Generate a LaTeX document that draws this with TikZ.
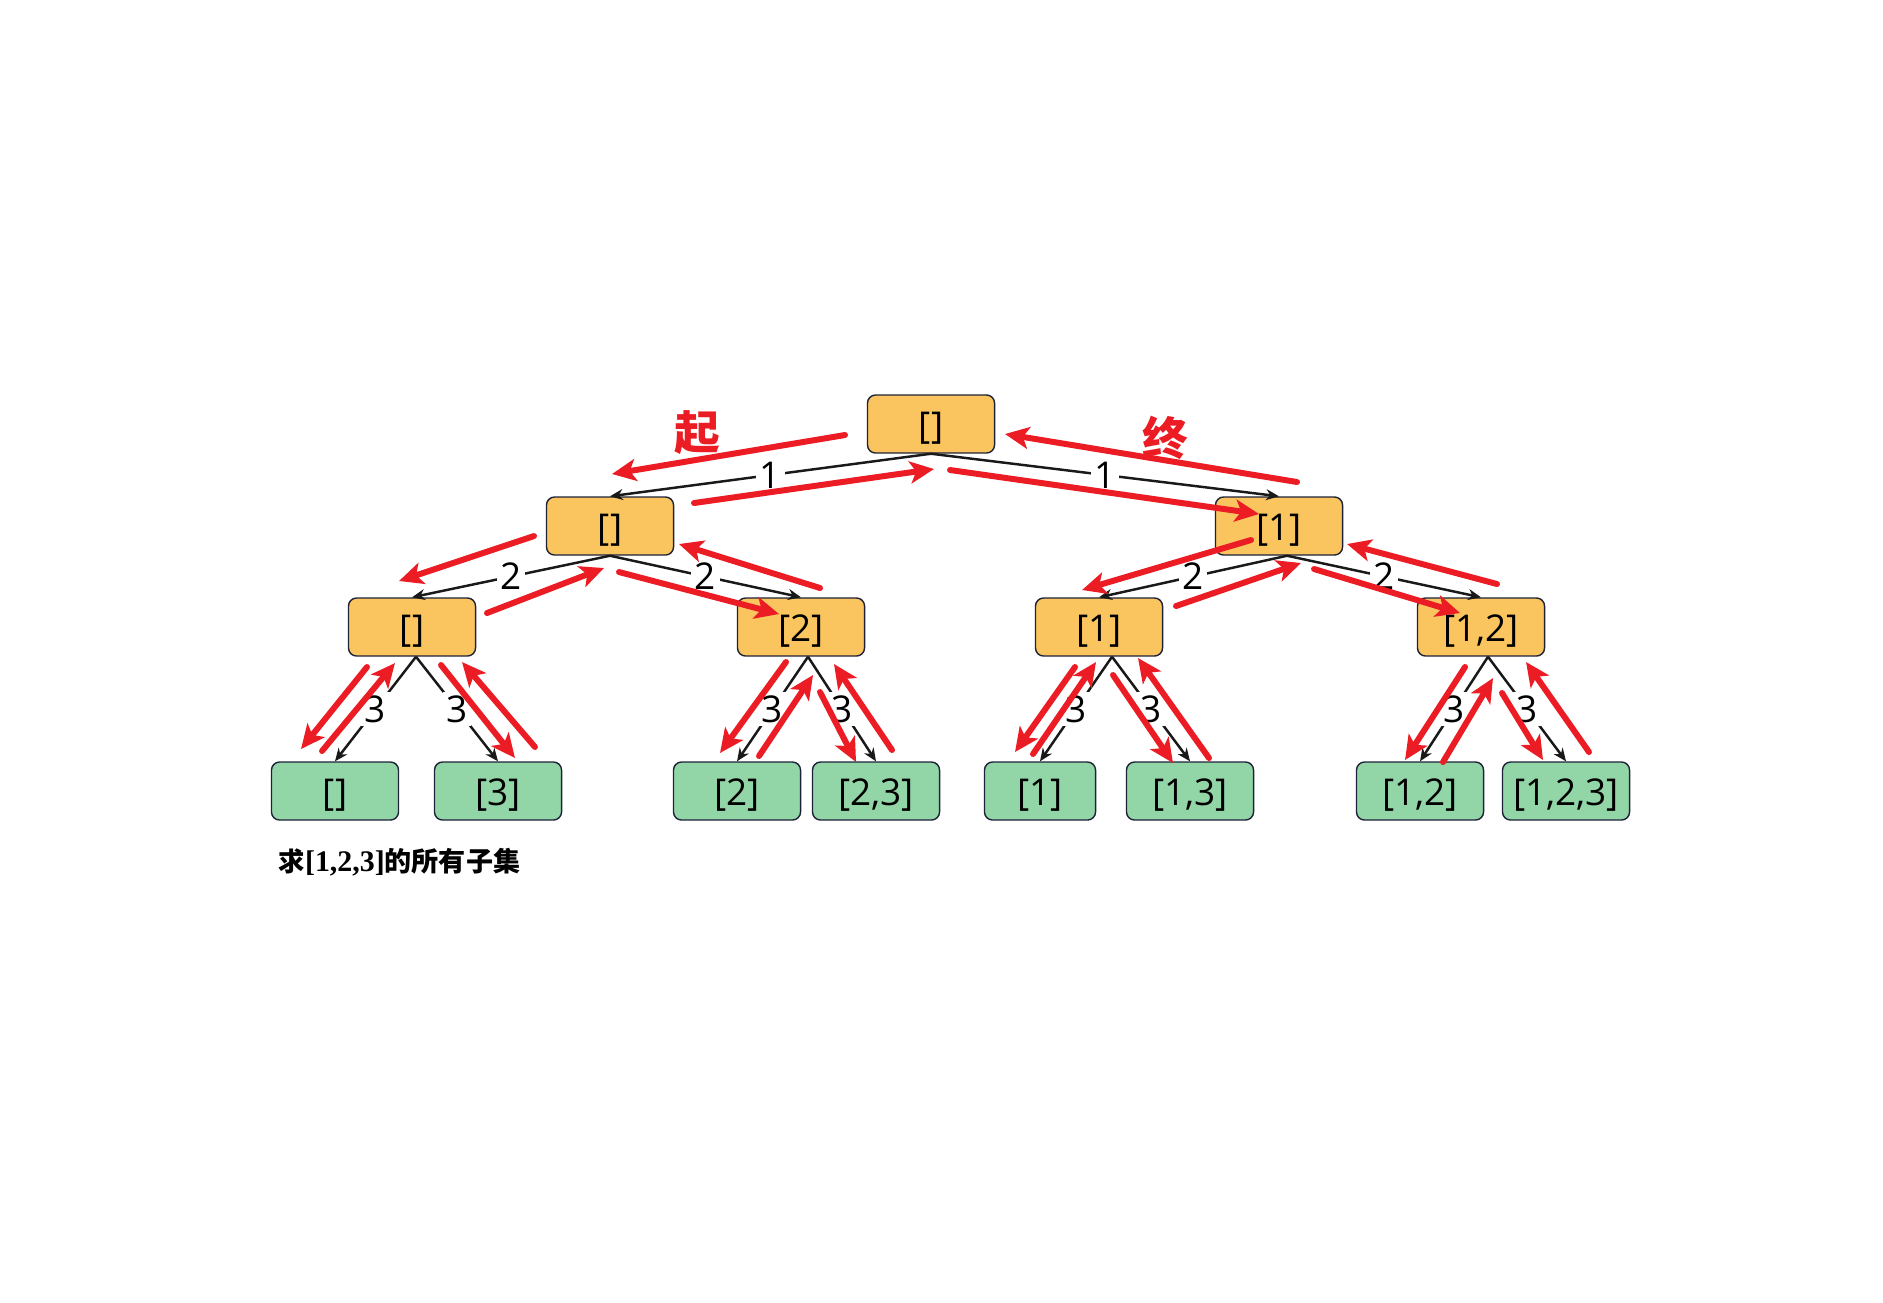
\documentclass[tikz,border=0pt]{standalone}
\usepackage{fontspec}
\setmainfont{Open Sans}
\newfontfamily\cjkfont{Noto Sans CJK SC}
\newfontfamily\capserif{Liberation Serif}
\usetikzlibrary{arrows.meta, calc}
\definecolor{nodeOrange}{RGB}{250,197,94}
\definecolor{leafGreen}{RGB}{146,214,168}
\definecolor{boxLine}{RGB}{30,34,56}
\definecolor{trailRed}{RGB}{236,28,36}
\definecolor{edgeBlack}{RGB}{25,25,25}
\tikzset{
    setbox/.style={
        rectangle,
        draw=boxLine,
        line width=0.4pt,
        rounded corners=2.3pt,
        fill=nodeOrange,
        minimum width=1.27cm,
        minimum height=0.58cm,
        inner sep=0pt,
        text height=0.8em,
        text depth=0pt,
        font=\fontsize{10.5}{12}\selectfont
    },
    leafbox/.style={
        setbox,
        fill=leafGreen
    },
    treeedge/.style={-{Stealth[length=1.3mm, width=1.1mm]}, line width=0.7pt, draw=edgeBlack},
    trail/.style={-{Stealth[length=2.4mm, width=2.2mm, inset=0.6mm]}, line width=1.7pt, draw=trailRed, line cap=round},
    steplabel/.style={fill=white, inner sep=1pt, font=\fontsize{10.5}{12}\selectfont},
    marker/.style={text=trailRed, font=\cjkfont\bfseries\fontsize{13}{15}\selectfont}
}

\begin{document}
\begin{tikzpicture}[x=0.01cm, y=-0.01cm]
        \useasboundingbox (0,0) rectangle (1883,1302);

        % tree of choices
        \node[setbox] (root) at (931,424) {[]};
        \node[setbox] (a) at (610,526) {[]};
        \node[setbox] (b) at (1279,526) {[1]};
        \node[setbox] (aa) at (412,627) {[]};
        \node[setbox] (ab) at (801,627) {[2]};
        \node[setbox] (ba) at (1099,627) {[1]};
        \node[setbox] (bb) at (1481,627) {[1,2]};
        \node[leafbox] (aaa) at (335,791) {[]};
        \node[leafbox] (aab) at (498,791) {[3]};
        \node[leafbox] (aba) at (737,791) {[2]};
        \node[leafbox] (abb) at (876,791) {[2,3]};
        \node[leafbox, minimum width=1.11cm] (baa) at (1040,791) {[1]};
        \node[leafbox] (bab) at (1190,791) {[1,3]};
        \node[leafbox] (bba) at (1420,791) {[1,2]};
        \node[leafbox] (bbb) at (1566,791) {[1,2,3]};

        \node[marker] (start) at (697,433) {起};
        \node[marker] (finish) at (1165,438) {终};
        \node[anchor=west, inner sep=0pt, font=\bfseries\fontsize{7.5}{9}\selectfont] (caption) at (278,862)
            {\cjkfont 求\capserif\fontsize{8.5}{9}\selectfont[1,2,3]\cjkfont\fontsize{7.7}{9}\selectfont 的所有子集};

        \draw[treeedge] (root.south) -- node[steplabel]{1} (a.north);
        \draw[treeedge] (root.south) -- node[steplabel]{1} (b.north);
        \draw[treeedge] (a.south) -- node[steplabel]{2} (aa.north);
        \draw[treeedge] (a.south) -- node[steplabel]{2} (ab.north);
        \draw[treeedge] ($(b.south)+(8,0)$) -- node[steplabel]{2} (ba.north);
        \draw[treeedge] ($(b.south)+(8,0)$) -- node[steplabel]{2} (bb.north);
        \draw[treeedge] ($(aa.south)+(4,0)$) -- node[steplabel]{3} (aaa.north);
        \draw[treeedge] ($(aa.south)+(4,0)$) -- node[steplabel]{3} (aab.north);
        \draw[treeedge] ($(ab.south)+(7,0)$) -- node[steplabel]{3} (aba.north);
        \draw[treeedge] ($(ab.south)+(7,0)$) -- node[steplabel]{3} (abb.north);
        \draw[treeedge] ($(ba.south)+(13,0)$) -- node[steplabel]{3} (baa.north);
        \draw[treeedge] ($(ba.south)+(13,0)$) -- node[steplabel]{3} (bab.north);
        \draw[treeedge] ($(bb.south)+(7,0)$) -- node[steplabel]{3} (bba.north);
        \draw[treeedge] ($(bb.south)+(7,0)$) -- node[steplabel]{3} (bbb.north);

        % backtracking walk
        \draw[trail] ($(root)+(-86,11)$) -- ($(a)+(2,-52)$);
        \draw[trail] ($(a)+(84,-23)$) -- ($(root)+(3,45)$);
        \draw[trail] ($(b)+(18,-44)$) -- ($(root)+(74,10)$);
        \draw[trail] ($(root)+(19,46)$) -- ($(b)+(-20,-12)$);
        \draw[trail] ($(a)+(-76,10)$) -- ($(aa)+(-13,-46)$);
        \draw[trail] ($(aa)+(75,-14)$) -- ($(a)+(-6,42)$);
        \draw[trail] ($(a)+(9,46)$) -- ($(ab)+(-22,-13)$);
        \draw[trail] ($(ab)+(19,-39)$) -- ($(a)+(69,18)$);
        \draw[trail] ($(b)+(-28,14)$) -- ($(ba)+(-17,-37)$);
        \draw[trail] ($(ba)+(77,-21)$) -- ($(b)+(22,37)$);
        \draw[trail] ($(b)+(35,43)$) -- ($(bb)+(-21,-14)$);
        \draw[trail] ($(bb)+(16,-43)$) -- ($(b)+(68,18)$);
        \draw[trail] ($(aa)+(-45,40)$) -- ($(aaa)+(-34,-42)$);
        \draw[trail] ($(aaa)+(-13,-40)$) -- ($(aa)+(-17,36)$);
        \draw[trail] ($(aa)+(29,38)$) -- ($(aab)+(17,-33)$);
        \draw[trail] ($(aab)+(37,-44)$) -- ($(aa)+(50,35)$);
        \draw[trail] ($(ab)+(-15,35)$) -- ($(aba)+(-17,-38)$);
        \draw[trail] ($(aba)+(22,-35)$) -- ($(ab)+(12,48)$);
        \draw[trail] ($(ab)+(19,65)$) -- ($(abb)+(-20,-29)$);
        \draw[trail] ($(abb)+(16,-41)$) -- ($(ab)+(33,37)$);
        \draw[trail] ($(ba)+(-24,40)$) -- ($(baa)+(-25,-39)$);
        \draw[trail] ($(baa)+(-7,-37)$) -- ($(ba)+(-3,35)$);
        \draw[trail] ($(ba)+(14,48)$) -- ($(bab)+(-17,-28)$);
        \draw[trail] ($(bab)+(19,-33)$) -- ($(ba)+(39,31)$);
        \draw[trail] ($(bb)+(-16,40)$) -- ($(bba)+(-15,-31)$);
        \draw[trail] ($(bba)+(23,-29)$) -- ($(bb)+(12,51)$);
        \draw[trail] ($(bb)+(21,66)$) -- ($(bbb)+(-23,-31)$);
        \draw[trail] ($(bbb)+(23,-39)$) -- ($(bb)+(45,35)$);
    \end{tikzpicture}
\end{document}
